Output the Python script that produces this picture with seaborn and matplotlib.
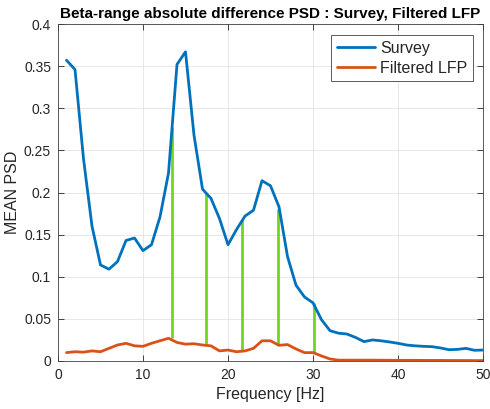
import numpy as np
import pandas as pd
import matplotlib
matplotlib.use("Agg")
import matplotlib.pyplot as plt
import seaborn as sns

freq = list(range(1, 51))
survey = [0.357, 0.346, 0.240, 0.160, 0.114, 0.109, 0.118, 0.143, 0.146, 0.131,
          0.138, 0.171, 0.223, 0.352, 0.367, 0.268, 0.204, 0.193, 0.169, 0.138,
          0.156, 0.172, 0.179, 0.214, 0.208, 0.183, 0.124, 0.090, 0.076, 0.069,
          0.049, 0.036, 0.033, 0.032, 0.028, 0.023, 0.025, 0.024, 0.0226, 0.021,
          0.019, 0.018, 0.0174, 0.017, 0.0155, 0.0134, 0.0138, 0.015, 0.0127, 0.013]
lfp = [0.010, 0.011, 0.0105, 0.012, 0.011, 0.015, 0.019, 0.021, 0.018, 0.0174,
       0.021, 0.024, 0.027, 0.022, 0.020, 0.0205, 0.019, 0.018, 0.012, 0.013,
       0.011, 0.012, 0.015, 0.024, 0.024, 0.0186, 0.0195, 0.0143, 0.0099, 0.010,
       0.006, 0.0024, 0.001, 0.001, 0.001, 0.001, 0.001, 0.0009, 0.0009, 0.0008,
       0.0008, 0.0008, 0.0007, 0.0007, 0.0007, 0.0006, 0.0006, 0.0006, 0.0005, 0.0005]

diff_x = [13.45, 17.41, 21.69, 25.92, 30.12]
diff_top = [0.278, 0.199, 0.169, 0.180, 0.069]
diff_bottom = [0.027, 0.019, 0.012, 0.019, 0.010]

series_names = ["Survey", "Filtered LFP"]
title = "Beta-range absolute difference PSD : Survey, Filtered LFP"

df = pd.DataFrame({
    "Frequency": freq * 2,
    "PSD": survey + lfp,
    "Series": [series_names[0]] * len(freq) + [series_names[1]] * len(freq),
})

sns.set_theme(style="white")
plt.rcParams["font.family"] = ["Liberation Sans", "DejaVu Sans"]

fig = plt.figure(figsize=(4.9, 4.09), dpi=100)
ax = fig.add_axes([58 / 490, 48 / 409, 425 / 490, 337 / 409])

axcol = "#262626"
ax.vlines(diff_x, diff_bottom, diff_top, colors="#72d61e", linewidth=2.0, zorder=2)
sns.lineplot(data=df, x="Frequency", y="PSD", hue="Series",
             palette={"Survey": "#0072BD", "Filtered LFP": "#D95319"},
             linewidth=2.0, ax=ax, zorder=3, legend=True)

ax.set_xlim(0, 50)
ax.set_ylim(0, 0.4)
ax.set_xticks([0, 10, 20, 30, 40, 50])
yt = [0, 0.05, 0.1, 0.15, 0.2, 0.25, 0.3, 0.35, 0.4]
ax.set_yticks(yt)
ax.set_yticklabels(["0", "0.05", "0.1", "0.15", "0.2", "0.25", "0.3", "0.35", "0.4"])
ax.grid(True, color="#e3e3e3", linewidth=0.6)
ax.set_axisbelow(True)
for s in ax.spines.values():
    s.set_visible(True)
    s.set_color("#404040")
    s.set_linewidth(0.6)
ax.tick_params(direction="in", length=4, width=0.6, colors=axcol, labelsize=10,
               top=True, right=True, bottom=True, left=True, pad=5)
ax.set_xlabel("Frequency [Hz]", fontsize=11.5, color=axcol)
ax.set_ylabel("MEAN PSD", fontsize=11.5, color=axcol, labelpad=3)
ax.set_title(title, fontsize=11, fontweight="bold", color="black", pad=4)

leg = ax.legend(loc="upper right", bbox_to_anchor=(0.976, 0.967), borderaxespad=0,
                fontsize=11.5, frameon=True, fancybox=False, edgecolor="#404040",
                framealpha=1, handlelength=2.4, borderpad=0.35, labelspacing=0.3,
                handletextpad=0.3)
leg.get_frame().set_linewidth(0.6)
for line in leg.get_lines():
    line.set_linewidth(2.0)

fig.savefig("out.png", dpi=100)
